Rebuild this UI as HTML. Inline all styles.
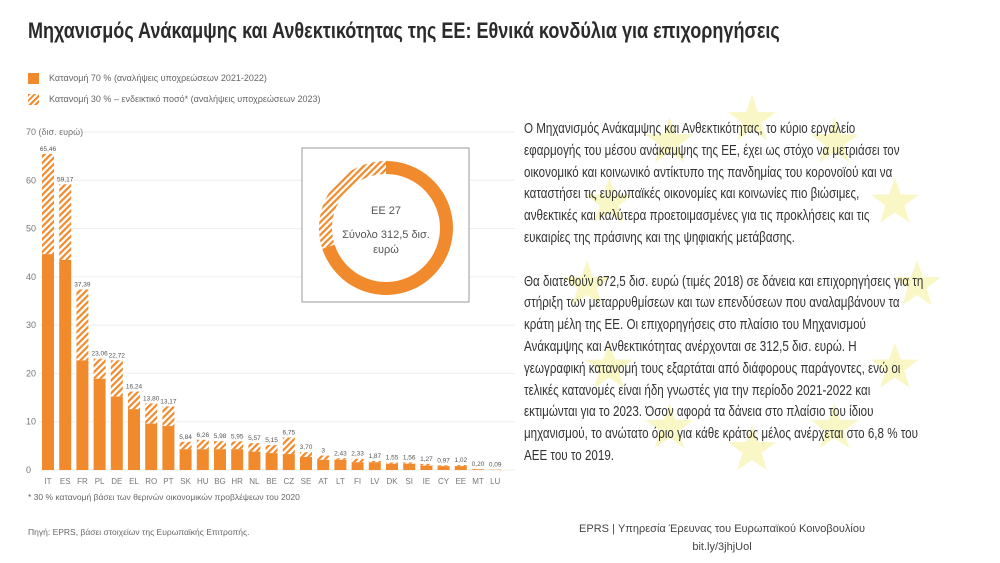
<!DOCTYPE html>
<html><head><meta charset="utf-8"><style>
body{margin:0;width:1000px;height:563px;background:#fff;overflow:hidden;font-family:"Liberation Sans","DejaVu Sans",sans-serif;color:#333}
#title{position:absolute;left:28px;top:18px;font-size:22px;font-weight:bold;white-space:nowrap;transform:scaleX(0.82);transform-origin:left top;color:#2b2b2b}
.leg{position:absolute;left:28px;font-size:9px;color:#666;white-space:nowrap}
.sw{display:inline-block;width:11px;height:11px;vertical-align:middle;margin-right:10px}
#text{position:absolute;left:524px;top:119px;font-size:14.5px;line-height:21.8px;color:#333;white-space:nowrap;transform:scaleX(0.8);transform-origin:left top}
.p{margin-bottom:21.8px}
svg{position:absolute;left:0;top:0}
</style></head><body>
<svg width="1000" height="563">
<defs><pattern id="hatch" patternUnits="userSpaceOnUse" width="4.5" height="4.5" patternTransform="rotate(45)"><rect width="4.5" height="4.5" fill="#fff"/><rect width="2.2" height="4.5" fill="#f08a2c"/></pattern></defs>
<g id="stars"></g>
<g id="grid"></g><g id="bars"></g>
<rect x="302" y="148" width="167" height="154" fill="#fff" stroke="#999" stroke-width="1"/>
<g id="donut"></g>
<text x="386" y="214" font-size="11" fill="#555" text-anchor="middle">ΕΕ 27</text>
<text x="386" y="238" font-size="11" fill="#555" text-anchor="middle">Σύνολο 312,5 δισ.</text>
<text x="386" y="253" font-size="11" fill="#555" text-anchor="middle">ευρώ</text>
</svg>
<div id="title">Μηχανισμός Ανάκαμψης και Ανθεκτικότητας της ΕΕ: Εθνικά κονδύλια για επιχορηγήσεις</div>
<div class="leg" style="top:73px"><span class="sw" style="background:#f08a2c"></span>Κατανομή 70 % (αναλήψεις υποχρεώσεων 2021-2022)</div>
<div class="leg" style="top:94px"><span class="sw" style="background:repeating-linear-gradient(135deg,#f08a2c 0 2px,#fff 2px 4px)"></span>Κατανομή 30 % – ενδεικτικό ποσό* (αναλήψεις υποχρεώσεων 2023)</div>
<div class="leg" style="top:492px;font-size:8.5px">* 30 % κατανομή βάσει των θερινών οικονομικών προβλέψεων του 2020</div>
<div class="leg" style="top:527px;font-size:8.5px">Πηγή: EPRS, βάσει στοιχείων της Ευρωπαϊκής Επιτροπής.</div>
<div style="position:absolute;left:560px;width:324px;top:520px;font-size:11px;color:#444;text-align:center;line-height:18px">EPRS | Υπηρεσία Έρευνας του Ευρωπαϊκού Κοινοβουλίου<br><span>bit.ly/3jhjUol</span></div>
<div id="text">
<div class="p">Ο Μηχανισμός Ανάκαμψης και Ανθεκτικότητας, το κύριο εργαλείο<br>εφαρμογής του μέσου ανάκαμψης της ΕΕ, έχει ως στόχο να μετριάσει τον<br>οικονομικό και κοινωνικό αντίκτυπο της πανδημίας του κορονοϊού και να<br>καταστήσει τις ευρωπαϊκές οικονομίες και κοινωνίες πιο βιώσιμες,<br>ανθεκτικές και καλύτερα προετοιμασμένες για τις προκλήσεις και τις<br>ευκαιρίες της πράσινης και της ψηφιακής μετάβασης.</div>
<div>Θα διατεθούν 672,5 δισ. ευρώ (τιμές 2018) σε δάνεια και επιχορηγήσεις για τη<br>στήριξη των μεταρρυθμίσεων και των επενδύσεων που αναλαμβάνουν τα<br>κράτη μέλη της ΕΕ. Οι επιχορηγήσεις στο πλαίσιο του Μηχανισμού<br>Ανάκαμψης και Ανθεκτικότητας ανέρχονται σε 312,5 δισ. ευρώ. Η<br>γεωγραφική κατανομή τους εξαρτάται από διάφορους παράγοντες, ενώ οι<br>τελικές κατανομές είναι ήδη γνωστές για την περίοδο 2021-2022 και<br>εκτιμώνται για το 2023. Όσον αφορά τα δάνεια στο πλαίσιο του ίδιου<br>μηχανισμού, το ανώτατο όριο για κάθε κράτος μέλος ανέρχεται στο 6,8 % του<br>ΑΕΕ του το 2019.</div>
</div>
<script>
const categories=["IT","ES","FR","PL","DE","EL","RO","PT","SK","HU","BG","HR","NL","BE","CZ","SE","AT","LT","FI","LV","DK","SI","IE","CY","EE","MT","LU"];
const totalValues=[65.46,59.17,37.39,23.06,22.72,16.24,13.80,13.17,5.84,6.26,5.98,5.95,5.57,5.15,6.75,3.70,3,2.43,2.33,1.87,1.55,1.56,1.27,0.97,1.02,0.20,0.09];
const totalLabels=["65,46","59,17","37,39","23,06","22,72","16,24","13,80","13,17","5,84","6,26","5,98","5,95","5,57","5,15","6,75","3,70","3","2,43","2,33","1,87","1,55","1,56","1,27","0,97","1,02","0,20","0,09"];
const firstValues=[44.7,43.5,22.7,18.9,15.2,12.6,9.6,9.1,4.3,4.3,4.3,4.3,3.8,3.5,3.3,2.7,2.1,2.1,1.6,1.6,1.3,1.3,0.9,0.8,0.8,0.15,0.07];
const yTicks=[0,10,20,30,40,50,60,70];
const donutShares=[70,30];
const NS="http://www.w3.org/2000/svg";
function mk(tag,attrs,parent){const e=document.createElementNS(NS,tag);for(const k in attrs)e.setAttribute(k,attrs[k]);parent.appendChild(e);return e;}
const y=v=>470-v*(338/70);
const x=i=>48+i*17.2;
const grid=document.getElementById('grid'),bars=document.getElementById('bars');
yTicks.forEach(t=>{
  const l=mk('line',{x1:40,x2:515,y1:y(t),y2:y(t),stroke:'#eee','stroke-width':1},grid);
  
  
  const tx=mk('text',{x:26,y:y(t)+3,'font-size':9,fill:'#777'},grid);
  tx.textContent=t===70?'70 (δισ. ευρώ)':String(t);
  
  
});
categories.forEach((c,i)=>{
  const cx=x(i),w=12;
  const h=mk('rect',{x:cx-w/2,y:y(totalValues[i]),width:w,height:y(firstValues[i])-y(totalValues[i]),fill:'url(#hatch)'},bars);
  
  
  const s=mk('rect',{x:cx-w/2,y:y(firstValues[i]),width:w,height:470-y(firstValues[i]),fill:'#f08a2c'},bars);
  
  
  const vl=mk('text',{x:cx,y:y(totalValues[i])-3,'font-size':6.5,fill:'#555','text-anchor':'middle'},bars);
  vl.textContent=totalLabels[i];
  
  
  const cl=mk('text',{x:cx,y:484,'font-size':8,fill:'#777','text-anchor':'middle'},bars);
  cl.textContent=c;
  
  
});
// donut (filled ring sectors so the hatch renders as in the reference)
const dg=document.getElementById('donut');const cx0=386,cy0=228,R=67,r0=54;
let acc=0;
donutShares.forEach((v,i)=>{
  const a0=acc/100*2*Math.PI,a1=(acc+v)/100*2*Math.PI;acc+=v;
  const p=(a,rr)=>[cx0+rr*Math.sin(a),cy0-rr*Math.cos(a)];
  const [ox0,oy0]=p(a0,R),[ox1,oy1]=p(a1,R),[ix1,iy1]=p(a1,r0),[ix0,iy0]=p(a0,r0);
  const lg=v>50?1:0;
  const arc=mk('path',{d:`M${ox0},${oy0} A${R},${R} 0 ${lg} 1 ${ox1},${oy1} L${ix1},${iy1} A${r0},${r0} 0 ${lg} 0 ${ix0},${iy0} Z`,fill:i===0?'#f08a2c':'url(#hatch)'},dg);
  
  
});
// stars
const sg=document.getElementById('stars');
for(let k=0;k<12;k++){
  const a=k/12*2*Math.PI,sx=752+165*Math.sin(a),sy=285-165*Math.cos(a);
  let pts=[];for(let j=0;j<10;j++){const rr=j%2?10:25,aa=j*Math.PI/5;pts.push((sx+rr*Math.sin(aa)).toFixed(1)+','+(sy-rr*Math.cos(aa)).toFixed(1));}
  const st=mk('polygon',{points:pts.join(' '),fill:'#f6f2a0','fill-opacity':0.6},sg);
  
  
}
</script>
</body></html>
